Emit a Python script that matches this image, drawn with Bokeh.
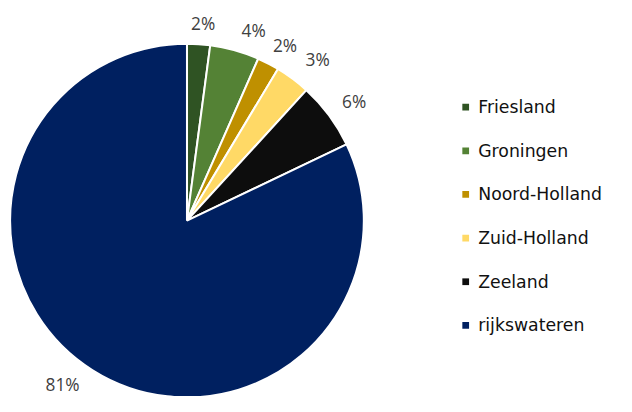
import math
from bokeh.plotting import figure
from bokeh.models import ColumnDataSource, Range1d
from bokeh.core.properties import value
from bokeh.embed import file_html
from bokeh.resources import INLINE

categories = ["Friesland", "Groningen", "Noord-Holland", "Zuid-Holland", "Zeeland", "rijkswateren"]
shares = [2.1, 4.5, 2.0, 3.2, 6.1, 82.1]
labels = ["2%", "4%", "2%", "3%", "6%", "81%"]
colors = ["#2f5323", "#548235", "#bf9000", "#ffd966", "#0d0d0d", "#002060"]

# layout: data units are reference pixels, uniformly scaled to fit the window
W, H = 616, 396
REF_H = 412
S = H / REF_H
REF_W = W / S
cx, cy, R = 194, REF_H - 229, 184
label_r = 209
label_dx = [3, 13, 6, 11, 6, -18]
label_dy = [-3, -3, -3, 0, -1, 6]

total = sum(shares)
starts, ends, lx, ly = [], [], [], []
cum = 0.0
for i, s in enumerate(shares):
    a0 = cum / total
    cum += s
    a1 = cum / total
    starts.append(math.pi / 2 - a0 * 2 * math.pi)
    ends.append(math.pi / 2 - a1 * 2 * math.pi)
    mid = (a0 + a1) / 2 * 2 * math.pi
    lx.append(cx + label_r * math.sin(mid) + label_dx[i])
    ly.append(cy + label_r * math.cos(mid) + label_dy[i])

p = figure(width=W, height=H, output_backend="svg", toolbar_location=None,
           x_axis_type=None, y_axis_type=None, min_border=0,
           x_range=Range1d(0, REF_W), y_range=Range1d(0, REF_H))
p.outline_line_color = None
p.grid.visible = False
p.background_fill_color = "white"

src = ColumnDataSource(dict(start=starts, end=ends, color=colors))
p.wedge(x=cx, y=cy, radius=R, start_angle="start", end_angle="end",
        direction="clock", fill_color="color", line_color="white",
        line_width=2, source=src)

lsrc = ColumnDataSource(dict(x=lx, y=ly, t=labels))
p.text(x="x", y="y", text="t", source=lsrc, text_align="center",
       text_baseline="middle", text_color="#404040",
       text_font=value("Open Sans"), text_font_size=f"{18 * S:.1f}px")

# legend
leg_x0, leg_y0, leg_step = 484, REF_H - 111, 45.4
gy = [leg_y0 - i * leg_step for i in range(len(categories))]
gsrc = ColumnDataSource(dict(x=[leg_x0] * len(categories), y=gy,
                             tx=[leg_x0 + 13] * len(categories),
                             name=categories, color=colors))
p.scatter(x="x", y="y", marker="square", size=7 * S, fill_color="color",
          line_color=None, source=gsrc)
p.text(x="tx", y="y", text="name", source=gsrc, text_align="left",
       text_baseline="middle", text_color="#111111",
       text_font=value("DejaVu Sans"), text_font_size=f"{18 * S:.1f}px")

open("out.html", "w").write(file_html(p, INLINE))
